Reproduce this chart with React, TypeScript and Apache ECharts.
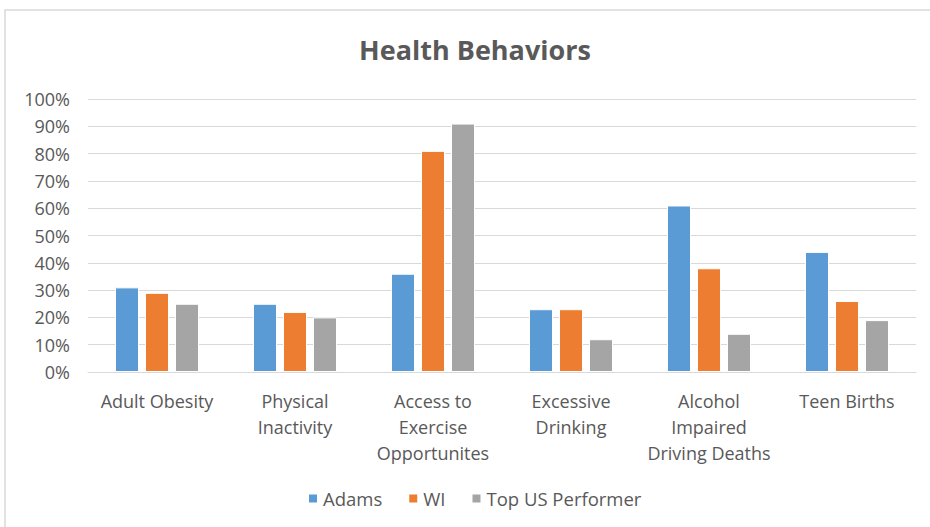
import React, { useEffect, useRef } from "react";
import * as echarts from "echarts";

const categories = [
  "Adult Obesity",
  "Physical\nInactivity",
  "Access to\nExercise\nOpportunites",
  "Excessive\nDrinking",
  "Alcohol\nImpaired\nDriving Deaths",
  "Teen Births",
];
const seriesNames = ["Adams", "WI", "Top US Performer"];
const adams = [31, 25, 36, 23, 61, 44];
const wi = [29, 22, 81, 23, 38, 26];
const topUS = [25, 20, 91, 12, 14, 19];
const colors = ["#5B9BD5", "#ED7D31", "#A5A5A5"];
const FONT = "'Open Sans', sans-serif";

export default function App() {
  const ref = useRef<HTMLDivElement>(null);
  useEffect(() => {
    if (!ref.current) return;
    const chart = echarts.init(ref.current, null, { renderer: "svg" });
    const data = [adams, wi, topUS];
    chart.setOption({
      animation: false,
      backgroundColor: "#ffffff",
      title: {
        text: "Health Behaviors",
        left: 470,
        textAlign: "center",
        top: 31,
        textStyle: { fontFamily: FONT, fontSize: 27, fontWeight: "bold", color: "#595959" },
      },
      graphic: [
        {
          type: "rect",
          shape: { x: 5, y: 10, width: 940, height: 540 },
          style: { fill: "none", stroke: "#d9d9d9", lineWidth: 1.5 },
          silent: true,
        },
      ],
      legend: {
        data: seriesNames,
        bottom: 14,
        left: 302,
        itemWidth: 10,
        itemHeight: 10,
        itemGap: 25,
        icon: "rect",
        textStyle: { fontFamily: FONT, fontSize: 18.5, color: "#595959" },
      },
      grid: { left: 88, right: 14, top: 99, bottom: 155 },
      xAxis: {
        type: "category",
        data: categories,
        axisLine: { lineStyle: { color: "#d9d9d9" } },
        axisTick: { show: false },
        axisLabel: {
          fontFamily: FONT,
          fontSize: 18,
          color: "#595959",
          lineHeight: 26,
          margin: 16,
          interval: 0,
        },
      },
      yAxis: {
        type: "value",
        min: 0,
        max: 100,
        interval: 10,
        axisLine: { show: false },
        axisTick: { show: false },
        splitLine: { lineStyle: { color: "#d9d9d9", width: 1 } },
        axisLabel: {
          fontFamily: FONT,
          fontSize: 18,
          color: "#595959",
          margin: 18,
          formatter: "{value}%",
        },
      },
      series: seriesNames.map((name, i) => ({
        name,
        type: "bar",
        data: data[i],
        barWidth: 24,
        barGap: "25%",
        itemStyle: { color: colors[i], borderColor: "#ffffff", borderWidth: 1 },
      })),
    });
    return () => chart.dispose();
  }, []);
  return (
    <div
      ref={ref}
      style={{ position: "fixed", left: 0, top: 0, width: 930, height: 527 }}
    />
  );
}
